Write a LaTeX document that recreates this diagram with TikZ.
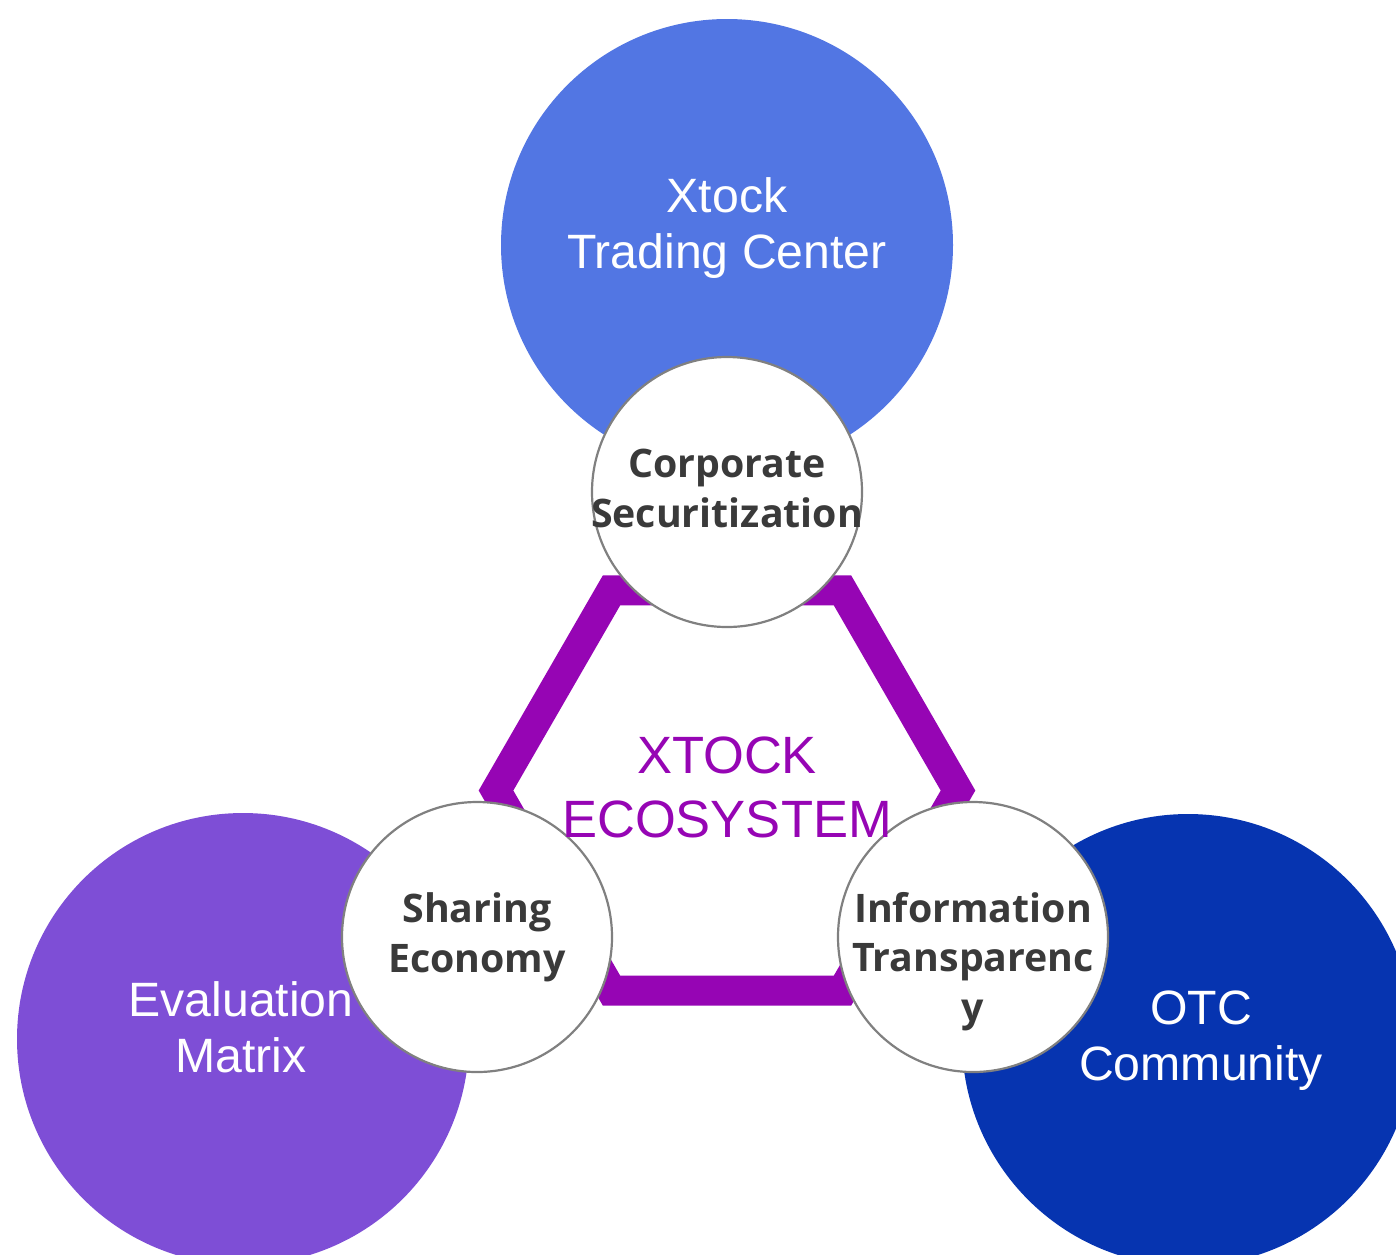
\documentclass[tikz,border=0pt]{standalone}
\usepackage{fontspec}
\setmainfont{Liberation Sans}
\newfontfamily\osans{Open Sans}
\definecolor{cTop}{RGB}{82,118,227}
\definecolor{cLeft}{RGB}{126,78,214}
\definecolor{cRight}{RGB}{6,52,176}
\definecolor{cHex}{RGB}{150,5,180}
\definecolor{cTxt}{RGB}{58,58,58}
\definecolor{cRim}{RGB}{128,128,128}
\tikzset{
  bigc/.style={circle, minimum size=452pt, inner sep=0pt},
  smallc/.style={circle, minimum size=270pt, inner sep=0pt, fill=white, draw=cRim, line width=2.2pt},
  bigtxt/.style={text=white, align=center, font=\fontsize{48.2}{56}\selectfont, inner sep=0pt},
  smalltxt/.style={text=cTxt, align=center, font=\osans\bfseries\fontsize{39.3}{49.5}\selectfont, inner sep=0pt},
  ecotxt/.style={text=cHex, align=center, font=\fontsize{52.5}{63.5}\selectfont, inner sep=0pt},
  hexline/.style={draw=cHex, line width=30pt, line join=miter}
}
\begin{document}
\begin{tikzpicture}[x=1pt, y=-1pt]
\useasboundingbox (0,0) rectangle (1396,1254);
\fill[white] (0,0) rectangle (1396,1254);
\clip (0,0) rectangle (1396,1254);
% big circles
\node[bigc, fill=cTop] (tc) at (727,245) {};
\node[bigc, fill=cLeft] (em) at (243,1039) {};
\node[bigc, fill=cRight] (otc) at (1188,1040) {};
% hexagon
\coordinate (h1) at (958,790.5);
\coordinate (h2) at (842.5,590.4);
\coordinate (h3) at (611.5,590.4);
\coordinate (h4) at (496,790.5);
\coordinate (h5) at (611.5,990.6);
\coordinate (h6) at (842.5,990.6);
\draw[hexline] (h1) -- (h2) -- (h3) -- (h4) -- (h5) -- (h6) -- cycle;
% small circles
\node[smallc] (cs) at (727,492) {};
\node[smallc] (se) at (477,937) {};
\node[smallc] (it) at (973,937) {};
% texts (anchor=base is the baseline of the last line)
\node[bigtxt, anchor=base] (tct) at (727,268) {Xtock\\Trading Center};
\node[bigtxt, anchor=base] (emt) at (241,1072) {Evaluation\\Matrix};
\node[bigtxt, anchor=base] (otct) at (1201,1080) {OTC\\Community};
\node[ecotxt, anchor=base] (eco) at (727,837) {XTOCK\\ECOSYSTEM};
\node[smalltxt, anchor=base] (cst) at (727,527) {Corporate\\Securitization};
\node[smalltxt, anchor=base] (set) at (477,972) {Sharing\\Economy};
\node[smalltxt, anchor=base] (itt) at (973,1021) {Information\\Transparenc\\y};
\end{tikzpicture}
\end{document}
